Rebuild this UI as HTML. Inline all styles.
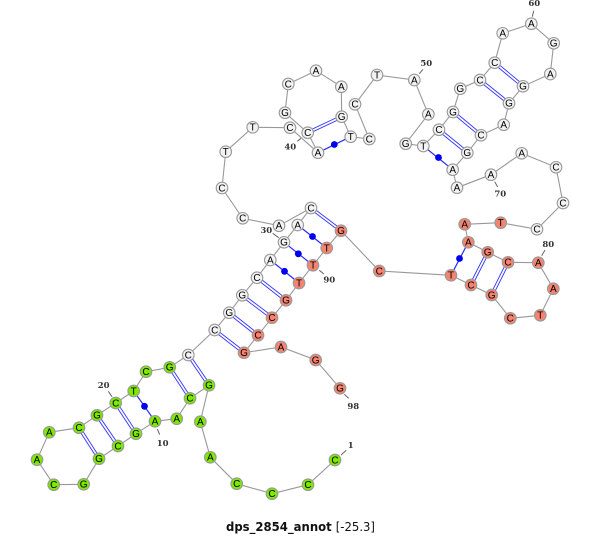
<!DOCTYPE html>
<html><head><meta charset="utf-8"><style>
html,body{margin:0;padding:0;background:#fff}
svg{display:block}
.b{fill:none;stroke:#999;stroke-width:1.1}
.p1{stroke:#3a3aff;stroke-width:3.6;fill:none}
.p2{stroke:#fff;stroke-width:1.7;fill:none}
.s{stroke:#2a2aff;stroke-width:1.2}
.d{fill:#0000f0}
.t{stroke:#666;stroke-width:1}
circle.n{stroke:#999;stroke-width:1.1;r:5.8}
.g circle{fill:#7fe800}
.w circle{fill:#f3f3f3}
.r circle{fill:#f48472}
.l{font:10px "Liberation Sans",sans-serif;fill:#000;text-anchor:middle}
.num{font:bold 8.5px "DejaVu Serif",serif;fill:#333;text-anchor:middle}
.title{font:bold 12px "DejaVu Sans",sans-serif;fill:#111;text-anchor:middle}
</style></head><body>
<svg width="600" height="536" viewBox="0 0 600 536" xmlns="http://www.w3.org/2000/svg">
<polyline class="b" points="335,460 308,484.7 272,493.7 236.7,483.7 210.3,457.3 200.3,421.7 209,385.3 190,398.3 176.7,418.7 155,421.3 136,433.7 118,446 99,458.7 83.7,484.3 53.7,484.7 37,459.7 49.3,432.3 79,427.7 97,415.3 115.7,403 133.7,391 146,371.7 169.7,367.3 188.3,355 214.7,330 229.3,312.7 242.3,295.3 257,277.7 270.3,260 284,242.3 297.7,225 311,208 279,225.7 242.7,218.3 222,188 225.7,151.7 252.7,127.3 290,127.7 318,152.7 307.7,132.7 285,112.7 288.3,84 316,70.7 341.3,86.7 341.7,116.7 350.7,136.7 369.3,139 355,104.3 377,75 414.3,80 428.3,114.3 405.7,143.7 423.3,146 439,129.7 453,112 460.3,88.7 480,80 494.7,62.7 502.7,33.3 531.3,23.7 553.7,43.3 550.3,74 523,86.3 509,103.3 503.7,124.7 481,135.3 467.3,152.7 452.7,169.7 457,187.7 491,174.7 521.7,153.3 556,167.3 563,203 537,229.3 500.7,222.7 464.7,224.3 468.3,242.3 487.7,252.3 508,262.3 538.3,262.7 553.3,288.7 540.3,315.3 510.3,318.3 491.7,295 471,285 451,275.3 379.3,271 341,230.7 326.7,248 313,265.3 299,283 286,300.3 272,317.7 258,335.3 244,352.7 281,347 315.7,360 340,388.3"/>

<path class="p1" d="M115.7 403L136 433.7M97 415.3L118 446M79 427.7L99 458.7M169.7 367.3L190 398.3M188.3 355L209 385.3M214.7 330L244 352.7M229.3 312.7L258 335.3M242.3 295.3L272 317.7M257 277.7L286 300.3M311 208L341 230.7M307.7 132.7L341.7 116.7M439 129.7L467.3 152.7M453 112L481 135.3M480 80L509 103.3M494.7 62.7L523 86.3M471 285L487.7 252.3M491.7 295L508 262.3"/>
<path class="p2" d="M115.7 403L136 433.7M97 415.3L118 446M79 427.7L99 458.7M169.7 367.3L190 398.3M188.3 355L209 385.3M214.7 330L244 352.7M229.3 312.7L258 335.3M242.3 295.3L272 317.7M257 277.7L286 300.3M311 208L341 230.7M307.7 132.7L341.7 116.7M439 129.7L467.3 152.7M453 112L481 135.3M480 80L509 103.3M494.7 62.7L523 86.3M471 285L487.7 252.3M491.7 295L508 262.3"/>
<path class="s" d="M133.7 391L155 421.3M270.3 260L299 283M284 242.3L313 265.3M297.7 225L326.7 248M318 152.7L350.7 136.7M423.3 146L452.7 169.7M451 275.3L468.3 242.3"/>
<g class="d">
<circle cx="144.5" cy="406.3" r="3.4"/><circle cx="284.5" cy="271.3" r="3.4"/><circle cx="298.3" cy="253.8" r="3.4"/><circle cx="312.5" cy="236.5" r="3.4"/><circle cx="334.3" cy="144.5" r="3.4"/><circle cx="438.5" cy="157.5" r="3.4"/><circle cx="459.5" cy="258.5" r="3.4"/>
</g>

<path class="t" d="M341 455L346.3 450.3M157.3 429L159.7 434.7M108.3 391.3L112 396.7M272.7 233.3L278.7 237.7M297.3 141.3L301 138.3M419.3 73.7L423 69.3M532.3 16.7L533.7 10.7M494.7 181.7L497.7 187M541.7 255.7L545 250M319.3 270.3L324 274M344.3 394.3L348.7 398.3"/>

<g class="g">
<circle class="n" cx="335" cy="460"/><circle class="n" cx="308" cy="484.7"/><circle class="n" cx="272" cy="493.7"/><circle class="n" cx="236.7" cy="483.7"/><circle class="n" cx="210.3" cy="457.3"/><circle class="n" cx="200.3" cy="421.7"/><circle class="n" cx="209" cy="385.3"/><circle class="n" cx="190" cy="398.3"/><circle class="n" cx="176.7" cy="418.7"/><circle class="n" cx="155" cy="421.3"/><circle class="n" cx="136" cy="433.7"/><circle class="n" cx="118" cy="446"/><circle class="n" cx="99" cy="458.7"/><circle class="n" cx="83.7" cy="484.3"/><circle class="n" cx="53.7" cy="484.7"/><circle class="n" cx="37" cy="459.7"/><circle class="n" cx="49.3" cy="432.3"/><circle class="n" cx="79" cy="427.7"/><circle class="n" cx="97" cy="415.3"/><circle class="n" cx="115.7" cy="403"/><circle class="n" cx="133.7" cy="391"/><circle class="n" cx="146" cy="371.7"/><circle class="n" cx="169.7" cy="367.3"/>
</g>
<g class="w">
<circle class="n" cx="188.3" cy="355"/><circle class="n" cx="214.7" cy="330"/><circle class="n" cx="229.3" cy="312.7"/><circle class="n" cx="242.3" cy="295.3"/><circle class="n" cx="257" cy="277.7"/><circle class="n" cx="270.3" cy="260"/><circle class="n" cx="284" cy="242.3"/><circle class="n" cx="297.7" cy="225"/><circle class="n" cx="311" cy="208"/><circle class="n" cx="279" cy="225.7"/><circle class="n" cx="242.7" cy="218.3"/><circle class="n" cx="222" cy="188"/><circle class="n" cx="225.7" cy="151.7"/><circle class="n" cx="252.7" cy="127.3"/><circle class="n" cx="290" cy="127.7"/><circle class="n" cx="318" cy="152.7"/><circle class="n" cx="307.7" cy="132.7"/><circle class="n" cx="285" cy="112.7"/><circle class="n" cx="288.3" cy="84"/><circle class="n" cx="316" cy="70.7"/><circle class="n" cx="341.3" cy="86.7"/><circle class="n" cx="341.7" cy="116.7"/><circle class="n" cx="350.7" cy="136.7"/><circle class="n" cx="369.3" cy="139"/><circle class="n" cx="355" cy="104.3"/><circle class="n" cx="377" cy="75"/><circle class="n" cx="414.3" cy="80"/><circle class="n" cx="428.3" cy="114.3"/><circle class="n" cx="405.7" cy="143.7"/><circle class="n" cx="423.3" cy="146"/><circle class="n" cx="439" cy="129.7"/><circle class="n" cx="453" cy="112"/><circle class="n" cx="460.3" cy="88.7"/><circle class="n" cx="480" cy="80"/><circle class="n" cx="494.7" cy="62.7"/><circle class="n" cx="502.7" cy="33.3"/><circle class="n" cx="531.3" cy="23.7"/><circle class="n" cx="553.7" cy="43.3"/><circle class="n" cx="550.3" cy="74"/><circle class="n" cx="523" cy="86.3"/><circle class="n" cx="509" cy="103.3"/><circle class="n" cx="503.7" cy="124.7"/><circle class="n" cx="481" cy="135.3"/><circle class="n" cx="467.3" cy="152.7"/><circle class="n" cx="452.7" cy="169.7"/><circle class="n" cx="457" cy="187.7"/><circle class="n" cx="491" cy="174.7"/><circle class="n" cx="521.7" cy="153.3"/><circle class="n" cx="556" cy="167.3"/><circle class="n" cx="563" cy="203"/><circle class="n" cx="537" cy="229.3"/>
</g>
<g class="r">
<circle class="n" cx="500.7" cy="222.7"/><circle class="n" cx="464.7" cy="224.3"/><circle class="n" cx="468.3" cy="242.3"/><circle class="n" cx="487.7" cy="252.3"/><circle class="n" cx="508" cy="262.3"/><circle class="n" cx="538.3" cy="262.7"/><circle class="n" cx="553.3" cy="288.7"/><circle class="n" cx="540.3" cy="315.3"/><circle class="n" cx="510.3" cy="318.3"/><circle class="n" cx="491.7" cy="295"/><circle class="n" cx="471" cy="285"/><circle class="n" cx="451" cy="275.3"/><circle class="n" cx="379.3" cy="271"/><circle class="n" cx="341" cy="230.7"/><circle class="n" cx="326.7" cy="248"/><circle class="n" cx="313" cy="265.3"/><circle class="n" cx="299" cy="283"/><circle class="n" cx="286" cy="300.3"/><circle class="n" cx="272" cy="317.7"/><circle class="n" cx="258" cy="335.3"/><circle class="n" cx="244" cy="352.7"/><circle class="n" cx="281" cy="347"/><circle class="n" cx="315.7" cy="360"/><circle class="n" cx="340" cy="388.3"/>
</g>

<g class="l">
<text x="335" y="463.4">C</text><text x="308" y="488.1">C</text><text x="272" y="497.1">C</text><text x="236.7" y="487.1">C</text><text x="210.3" y="460.7">A</text><text x="200.3" y="425.1">A</text><text x="209" y="388.7">G</text><text x="190" y="401.7">C</text><text x="176.7" y="422.1">A</text><text x="155" y="424.7">A</text><text x="136" y="437.1">G</text><text x="118" y="449.4">C</text><text x="99" y="462.1">G</text><text x="83.7" y="487.7">G</text><text x="53.7" y="488.1">C</text><text x="37" y="463.1">A</text><text x="49.3" y="435.7">A</text><text x="79" y="431.1">C</text><text x="97" y="418.7">G</text><text x="115.7" y="406.4">C</text><text x="133.7" y="394.4">T</text><text x="146" y="375.1">C</text><text x="169.7" y="370.7">G</text>
<text x="188.3" y="358.4">C</text><text x="214.7" y="333.4">C</text><text x="229.3" y="316.1">G</text><text x="242.3" y="298.7">G</text><text x="257" y="281.1">C</text><text x="270.3" y="263.4">A</text><text x="284" y="245.7">G</text><text x="297.7" y="228.4">A</text><text x="311" y="211.4">C</text><text x="279" y="229.1">A</text><text x="242.7" y="221.7">C</text><text x="222" y="191.4">C</text><text x="225.7" y="155.1">T</text><text x="252.7" y="130.7">T</text><text x="290" y="131.1">C</text><text x="318" y="156.1">A</text><text x="307.7" y="136.1">C</text><text x="285" y="116.1">G</text><text x="288.3" y="87.4">C</text><text x="316" y="74.1">A</text><text x="341.3" y="90.1">A</text><text x="341.7" y="120.1">G</text><text x="350.7" y="140.1">T</text><text x="369.3" y="142.4">C</text><text x="355" y="107.7">C</text><text x="377" y="78.4">T</text><text x="414.3" y="83.4">A</text><text x="428.3" y="117.7">A</text><text x="405.7" y="147.1">G</text><text x="423.3" y="149.4">T</text><text x="439" y="133.1">C</text><text x="453" y="115.4">G</text><text x="460.3" y="92.1">G</text><text x="480" y="83.4">C</text><text x="494.7" y="66.1">C</text><text x="502.7" y="36.7">A</text><text x="531.3" y="27.1">A</text><text x="553.7" y="46.7">G</text><text x="550.3" y="77.4">A</text><text x="523" y="89.7">G</text><text x="509" y="106.7">G</text><text x="503.7" y="128.1">A</text><text x="481" y="138.7">C</text><text x="467.3" y="156.1">G</text><text x="452.7" y="173.1">A</text><text x="457" y="191.1">A</text><text x="491" y="178.1">A</text><text x="521.7" y="156.7">A</text><text x="556" y="170.7">C</text><text x="563" y="206.4">C</text><text x="537" y="232.7">C</text>
<text x="500.7" y="226.1">T</text><text x="464.7" y="227.7">A</text><text x="468.3" y="245.7">A</text><text x="487.7" y="255.7">G</text><text x="508" y="265.7">C</text><text x="538.3" y="266.1">A</text><text x="553.3" y="292.1">A</text><text x="540.3" y="318.7">T</text><text x="510.3" y="321.7">C</text><text x="491.7" y="298.4">G</text><text x="471" y="288.4">C</text><text x="451" y="278.7">T</text><text x="379.3" y="274.4">C</text><text x="341" y="234.1">G</text><text x="326.7" y="251.4">T</text><text x="313" y="268.7">T</text><text x="299" y="286.4">T</text><text x="286" y="303.7">G</text><text x="272" y="321.1">C</text><text x="258" y="338.7">C</text><text x="244" y="356.1">G</text><text x="281" y="350.4">A</text><text x="315.7" y="363.4">G</text><text x="340" y="391.7">G</text>
</g>

<g class="num">
<text x="350.7" y="448">1</text><text x="162.7" y="446">10</text><text x="103.7" y="388">20</text><text x="266.3" y="233">30</text><text x="290.3" y="149.6">40</text><text x="426.3" y="66">50</text><text x="534.3" y="6">60</text><text x="500.3" y="196.6">70</text><text x="548.3" y="247">80</text><text x="329.3" y="282.6">90</text><text x="353.3" y="409">98</text>
</g>

<text class="title" x="300.5" y="531" textLength="149" lengthAdjust="spacingAndGlyphs">dps_2854_annot <tspan font-weight="normal">[-25.3]</tspan></text>
</svg>
</body></html>
